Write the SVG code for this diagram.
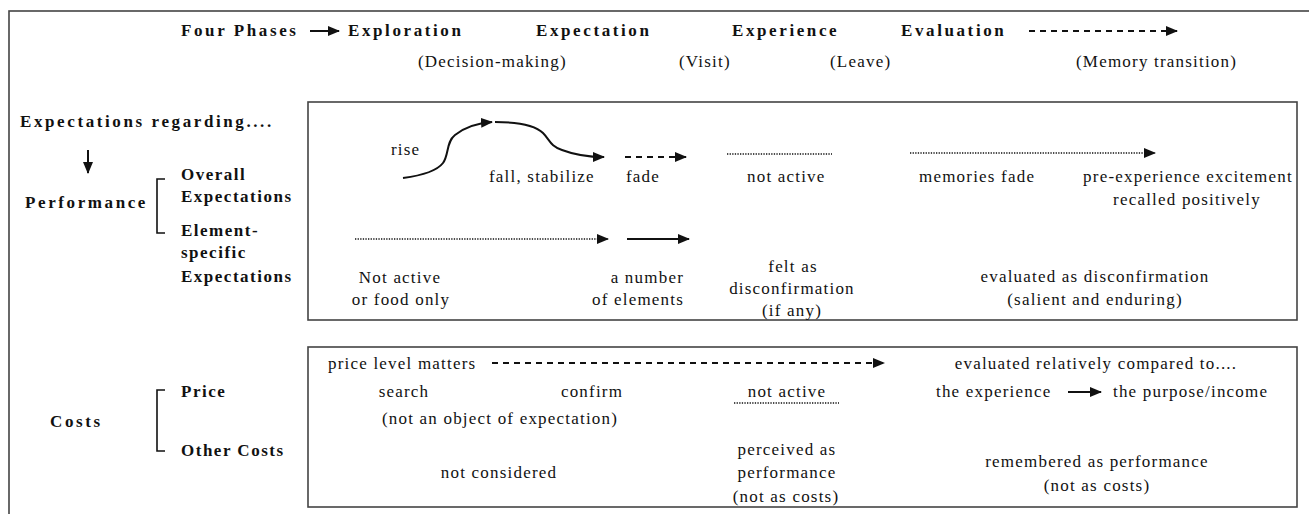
<svg xmlns="http://www.w3.org/2000/svg" width="1309" height="514" viewBox="0 0 1309 514">
<style>
.b{font-family:"Liberation Serif","Times New Roman",serif;font-weight:bold;font-size:17px;letter-spacing:2.6px;fill:#111}
.s{letter-spacing:1.5px}
.t{font-family:"Liberation Serif","Times New Roman",serif;font-size:17px;letter-spacing:1.2px;fill:#111}
.m{text-anchor:middle}
.e{text-anchor:end}
.box{fill:none;stroke:#444;stroke-width:1.6}
.ln{fill:none;stroke:#111;stroke-width:2}
.br{fill:none;stroke:#111;stroke-width:1.6}
.dash{fill:none;stroke:#111;stroke-width:2;stroke-dasharray:6 5}
.dot{fill:none;stroke:#111;stroke-width:1.3;stroke-dasharray:1.3 1.3}
</style>
<defs>
<marker id="ah" markerWidth="12" markerHeight="10" refX="11" refY="5" orient="auto" markerUnits="userSpaceOnUse"><path d="M0,0 L12,5 L0,10 z" fill="#111"/></marker>
</defs>
<rect x="0" y="0" width="1309" height="514" fill="#fff"/>
<rect class="box" x="9" y="11" width="1320" height="520"/>
<g id="header">
<text class="b" x="181" y="36">Four Phases</text>
<text class="b" x="348" y="36">Exploration</text>
<text class="b" x="536" y="36">Expectation</text>
<text class="b" x="732" y="36">Experience</text>
<text class="b" x="901" y="36">Evaluation</text>
<text class="t" x="418" y="67">(Decision-making)</text>
<text class="t" x="679" y="67">(Visit)</text>
<text class="t" x="830" y="67">(Leave)</text>
<text class="t" x="1076" y="67">(Memory transition)</text>
</g>
<g id="left-labels">
<text class="b" x="20" y="127">Expectations regarding....</text>
<text class="b" x="25" y="208">Performance</text>
<path class="br" d="M165,179 H157 V233 H165"/>
<text class="b s" x="181" y="180">Overall</text>
<text class="b s" x="181" y="202">Expectations</text>
<text class="b s" x="181" y="236">Element-</text>
<text class="b s" x="181" y="258">specific</text>
<text class="b s" x="181" y="282">Expectations</text>
<text class="b" x="50" y="427">Costs</text>
<path class="br" d="M165,390 H157 V451 H165"/>
<text class="b s" x="181" y="397">Price</text>
<text class="b s" x="181" y="456">Other Costs</text>
</g>
<g id="performance-box">
<rect class="box" x="308" y="102" width="989" height="218"/>
<text class="t" x="391" y="155">rise</text>
<text class="t" x="489" y="182">fall, stabilize</text>
<text class="t" x="626" y="182">fade</text>
<text class="t" x="747" y="182">not active</text>
<text class="t" x="919" y="182">memories fade</text>
<text class="t m" x="1188" y="182">pre-experience excitement</text>
<text class="t m" x="1187" y="205">recalled positively</text>
<text class="t m" x="400" y="283">Not active</text>
<text class="t m" x="401" y="305">or food only</text>
<text class="t e" x="684" y="283">a number</text>
<text class="t e" x="684" y="305">of elements</text>
<text class="t m" x="793" y="272">felt as</text>
<text class="t m" x="792" y="294">disconfirmation</text>
<text class="t m" x="792" y="316">(if any)</text>
<text class="t m" x="1095" y="282">evaluated as disconfirmation</text>
<text class="t m" x="1095" y="305">(salient and enduring)</text>
</g>
<g id="costs-box">
<rect class="box" x="308" y="347" width="989" height="160"/>
<text class="t" x="328" y="369">price level matters</text>
<text class="t m" x="1096" y="369">evaluated relatively compared to....</text>
<text class="t m" x="404" y="397">search</text>
<text class="t m" x="592" y="397">confirm</text>
<text class="t m" x="787" y="397">not active</text>
<text class="t" x="936" y="397">the experience</text>
<text class="t" x="1113" y="397">the purpose/income</text>
<text class="t m" x="500" y="424">(not an object of expectation)</text>
<text class="t m" x="499" y="478">not considered</text>
<text class="t m" x="787" y="455">perceived as</text>
<text class="t m" x="787" y="478">performance</text>
<text class="t m" x="786" y="502">(not as costs)</text>
<text class="t m" x="1097" y="467">remembered as performance</text>
<text class="t m" x="1097" y="491">(not as costs)</text>
</g>
<g id="connectors">
<path class="ln" d="M310,31 H339" marker-end="url(#ah)"/>
<path class="dash" d="M1029,31 H1177" marker-end="url(#ah)"/>
<path class="ln" d="M88,150 V173" marker-end="url(#ah)"/>
<path class="ln" d="M403,178 C418,176 436,172 443,163 C449,155 446,142 455,135 C465,127 478,123 492,122" marker-end="url(#ah)"/>
<path class="ln" d="M495,122 C515,122 535,125 543,133 C550,140 550,146 562,150 C575,155 590,157 604,157" marker-end="url(#ah)"/>
<path class="dash" d="M625,157 H686" marker-end="url(#ah)"/>
<path class="dot" d="M727,154 H832"/>
<path class="dot" d="M910,153 H1155" marker-end="url(#ah)"/>
<path class="dot" d="M355,239 H608" marker-end="url(#ah)"/>
<path class="ln" d="M627,239 H689" marker-end="url(#ah)"/>
<path class="dash" d="M492,363 H884" marker-end="url(#ah)"/>
<path class="dot" d="M734,403 H839"/>
<path class="ln" d="M1068,392 H1101" marker-end="url(#ah)"/>
</g>
</svg>
